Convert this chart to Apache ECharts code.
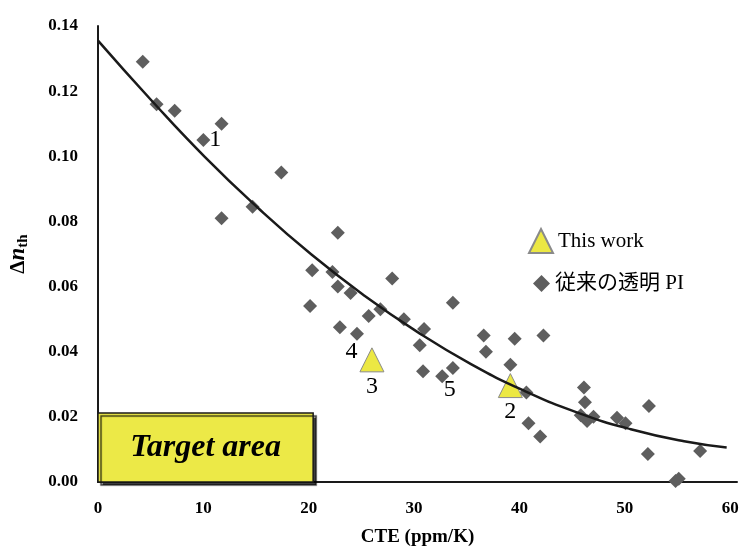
<!DOCTYPE html>
<html>
<head>
<meta charset="utf-8">
<script src="https://cdn.jsdelivr.net/npm/echarts@6/dist/echarts.min.js"></script>
<style>html,body{margin:0;padding:0;background:#fff}#c{width:743px;height:549px}</style>
</head>
<body>
<div id="c"></div>
<script>
// Conventional transparent PI (diamonds): [CTE, Δn_th]
var conventionalPI = [
  [4.25,0.129],[5.56,0.116],[7.28,0.114],[10.0,0.105],[11.73,0.110],[11.73,0.081],
  [14.67,0.0845],[17.4,0.095],[20.33,0.065],[20.13,0.054],[22.25,0.0645],[22.76,0.0765],
  [22.76,0.060],[22.96,0.0475],[23.97,0.058],[24.58,0.0455],[25.69,0.051],[26.8,0.053],
  [27.92,0.0625],[29.03,0.050],[30.54,0.042],[30.95,0.047],[30.85,0.034],[32.67,0.0325],
  [33.68,0.055],[33.68,0.035],[36.61,0.045],[36.82,0.040],[39.14,0.036],[39.55,0.044],
  [40.66,0.0275],[40.86,0.018],[41.97,0.014],[42.28,0.045],[46.12,0.029],[46.22,0.0245],
  [45.82,0.0205],[46.42,0.0187],[47.03,0.020],[49.26,0.0197],[50.07,0.018],[52.29,0.0233],
  [52.19,0.0086],[54.82,0.0003],[55.12,0.001],[57.15,0.0095]
];
// This work (triangles)
var thisWork = [[26.0,0.0375],[39.14,0.0296]];
// Trend curve samples
var trendCurve = [
  [0,0.1355],[5.06,0.1172],[10.11,0.0999],[15.17,0.0842],[20.23,0.0699],[25.29,0.0572],
  [30.34,0.0460],[35.4,0.0362],[40.46,0.0280],[45.51,0.0213],[50.57,0.0162],[55.63,0.0125],[59.67,0.0106]
];
// Number annotations: [CTE, Δn_th, text]
var annotations = [
  [11.13,0.105,'1'],[39.14,0.0215,'2'],[26.0,0.0292,'3'],[24.07,0.040,'4'],[33.38,0.0283,'5']
];
// Target area extent
var targetArea = {x0:0, y0:0, x1:20.42, y1:0.0212, text:'Target area'};
var xTicks = {min:0, max:60.65, interval:10};
var yTicks = {min:0, max:0.14, interval:0.02};

var serif = 'Liberation Serif, Noto Sans CJK JP, serif';
var chart = echarts.init(document.getElementById('c'));
chart.setOption({
  animation:false,
  backgroundColor:'#fff',
  grid:{left:98, right:6, top:26, bottom:67, containLabel:false, outerBoundsMode:'none'},
  legend:[{
    data:['This work'], orient:'vertical', left:523, top:223,
    itemWidth:24, itemHeight:24, itemGap:4,
    textStyle:{fontFamily:serif, fontSize:21, color:'#000'}
  },{
    data:['従来の透明 PI'], orient:'vertical', left:528, top:268,
    itemWidth:17, itemHeight:17,
    textStyle:{fontFamily:serif, fontSize:21, color:'#000'}
  }],
  xAxis:{
    type:'value', min:xTicks.min, max:xTicks.max, interval:xTicks.interval,
    name:'CTE (ppm/K)', nameLocation:'middle', nameGap:46,
    nameTextStyle:{fontFamily:serif, fontWeight:'bold', fontSize:19, color:'#000'},
    axisLine:{show:true, lineStyle:{color:'#1a1a1a', width:2}},
    axisTick:{show:false}, splitLine:{show:false},
    axisLabel:{fontFamily:serif, fontWeight:'bold', fontSize:17, color:'#000', margin:18,
      showMaxLabel:false, formatter:function(v){return (v%10===0)?String(v):'';}}
  },
  yAxis:{
    type:'value', min:yTicks.min, max:yTicks.max, interval:yTicks.interval,
    name:'{d|Δ}{n|n}{s|th}', nameLocation:'middle', nameGap:67,
    nameTextStyle:{fontFamily:serif, color:'#000',
      rich:{
        d:{fontFamily:serif, fontWeight:'bold', fontSize:21, color:'#000'},
        n:{fontFamily:serif, fontWeight:'bold', fontStyle:'italic', fontSize:23, color:'#000'},
        s:{fontFamily:serif, fontWeight:'bold', fontSize:15, color:'#000', padding:[10,0,0,0]}
      }},
    axisLine:{show:true, lineStyle:{color:'#1a1a1a', width:2}},
    axisTick:{show:false}, splitLine:{show:false},
    axisLabel:{fontFamily:serif, fontWeight:'bold', fontSize:17, color:'#000', margin:20,
      formatter:function(v){return v.toFixed(2);}}
  },
  series:[
    {
      name:'area', type:'line', data:[], silent:true, z:1,
      markArea:{
        silent:true,
        itemStyle:{color:'#ece947', opacity:1, borderColor:'#1a1a1a', borderWidth:1.5,
          shadowColor:'rgba(0,0,0,0.75)', shadowOffsetX:3, shadowOffsetY:3, shadowBlur:1},
        label:{show:true, position:'inside', fontFamily:serif, fontWeight:'bold',
          fontStyle:'italic', fontSize:32, color:'#000'},
        data:[[{name:targetArea.text, coord:[targetArea.x0,targetArea.y0]},{coord:[targetArea.x1,targetArea.y1]}]]
      }
    },
    {
      name:'従来の透明 PI', type:'scatter', data:conventionalPI, symbol:'diamond', symbolSize:14,
      itemStyle:{color:'#5e5e5e', opacity:1}, z:3
    },
    {
      name:'This work', type:'scatter', data:thisWork, symbol:'triangle', symbolSize:[24,24],
      itemStyle:{color:'#ece843', borderColor:'#8a8a8a', borderWidth:1, opacity:1}, z:4
    },
    {
      name:'trend', type:'line', data:trendCurve, smooth:true, showSymbol:false, symbol:'none',
      lineStyle:{color:'#1a1a1a', width:2.5}, z:5, silent:true
    },
    {
      name:'labels', type:'scatter', symbolSize:0, z:6, silent:true,
      itemStyle:{opacity:1},
      data:annotations.map(function(a){return {value:[a[0],a[1]], label:{formatter:a[2]}};}),
      label:{show:true, position:'inside', fontFamily:serif, fontSize:24, color:'#000', opacity:1}
    }
  ]
});
</script>
</body>
</html>
